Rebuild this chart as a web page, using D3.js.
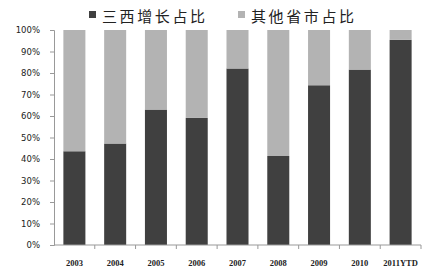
<!DOCTYPE html>
<html>
<head>
<meta charset="utf-8">
<script src="https://cdn.jsdelivr.net/npm/d3@7"></script>
<style>
  body { margin: 0; background: #fff; }
</style>
</head>
<body>
<div id="chart"></div>
<script>
// datos
var years = ['2003', '2004', '2005', '2006', '2007', '2008', '2009', '2010', '2011YTD']
var shanxi = [43.6, 47.2, 63.0, 59.1, 82.1, 41.4, 74.3, 81.6, 95.4]
var otros = shanxi.map((v) => 100 - v) // resto hasta 100%
var seriesNames = ['三西增长占比', '其他省市占比']
var colores = ['#404040', '#b3b3b3']
var yTicks = [0, 10, 20, 30, 40, 50, 60, 70, 80, 90, 100]

var width = 441
var height = 274

var svg = d3
  .select('#chart')
  .append('svg')
  .attr('width', width)
  .attr('height', height)

var xscale = d3
  .scaleBand()
  .domain(years)
  .range([54, 421])
  .paddingInner(0.46)
  .paddingOuter(0.23)

var yscale = d3.scaleLinear().domain([0, 100]).range([245, 30])

// barras apiladas
var rows = years.map((y, i) => ({ year: y, a: shanxi[i], b: otros[i] }))
var stack = d3.stack().keys(['a', 'b'])(rows)

svg
  .append('g')
  .selectAll('g')
  .data(stack)
  .enter()
  .append('g')
  .attr('fill', (d, i) => colores[i])
  .selectAll('rect')
  .data((d) => d)
  .enter()
  .append('rect')
  .attr('x', (d) => xscale(d.data.year))
  .attr('width', xscale.bandwidth())
  .attr('y', (d) => yscale(d[1]))
  .attr('height', (d) => yscale(d[0]) - yscale(d[1]))

// eje Y
var yaxis = d3
  .axisLeft(yscale)
  .tickValues(yTicks)
  .tickFormat((d) => d + '%')
  .tickSize(4)
  .tickPadding(10)

var gy = svg.append('g').attr('transform', 'translate(54,0)').call(yaxis)
gy.select('.domain').attr('stroke', '#999')
gy.selectAll('.tick line').attr('stroke', '#999')
gy.selectAll('text')
  .attr('fill', '#222')
  .style('font-family', 'DejaVu Sans, sans-serif')
  .style('font-size', '8.5px')

// eje X: marcas entre categorias
var gx = svg.append('g').attr('transform', 'translate(0,245)')
gx.append('line')
  .attr('x1', 54)
  .attr('x2', 421)
  .attr('stroke', '#999')
var step = xscale.step()
gx.selectAll('line.tk')
  .data(years)
  .enter()
  .append('line')
  .attr('class', 'tk')
  .attr('x1', (d) => xscale(d) - xscale.paddingOuter() * step + step)
  .attr('x2', (d) => xscale(d) - xscale.paddingOuter() * step + step)
  .attr('y1', 0)
  .attr('y2', 4)
  .attr('stroke', '#999')
gx.selectAll('text')
  .data(years)
  .enter()
  .append('text')
  .attr('x', (d) => xscale(d) + xscale.bandwidth() / 2)
  .attr('y', 21)
  .attr('text-anchor', 'middle')
  .attr('fill', '#222')
  .style('font-family', 'Liberation Serif, serif')
  .style('font-size', '8.5px')
  .style('font-weight', 'bold')
  .text((d) => d)

// leyenda
var legX = [89, 238]
var leg = svg
  .append('g')
  .selectAll('g')
  .data(seriesNames)
  .enter()
  .append('g')
  .attr('transform', (d, i) => 'translate(' + legX[i] + ',0)')
leg.append('rect')
  .attr('x', 0)
  .attr('y', 11)
  .attr('width', 7)
  .attr('height', 7)
  .attr('fill', (d, i) => colores[i])
leg.append('text')
  .attr('x', 13)
  .attr('y', 22)
  .attr('fill', '#222')
  .style('font-family', 'Noto Sans CJK SC, sans-serif')
  .style('font-size', '15px')
  .style('letter-spacing', '2.6px')
  .text((d) => d)
</script>
</body>
</html>
